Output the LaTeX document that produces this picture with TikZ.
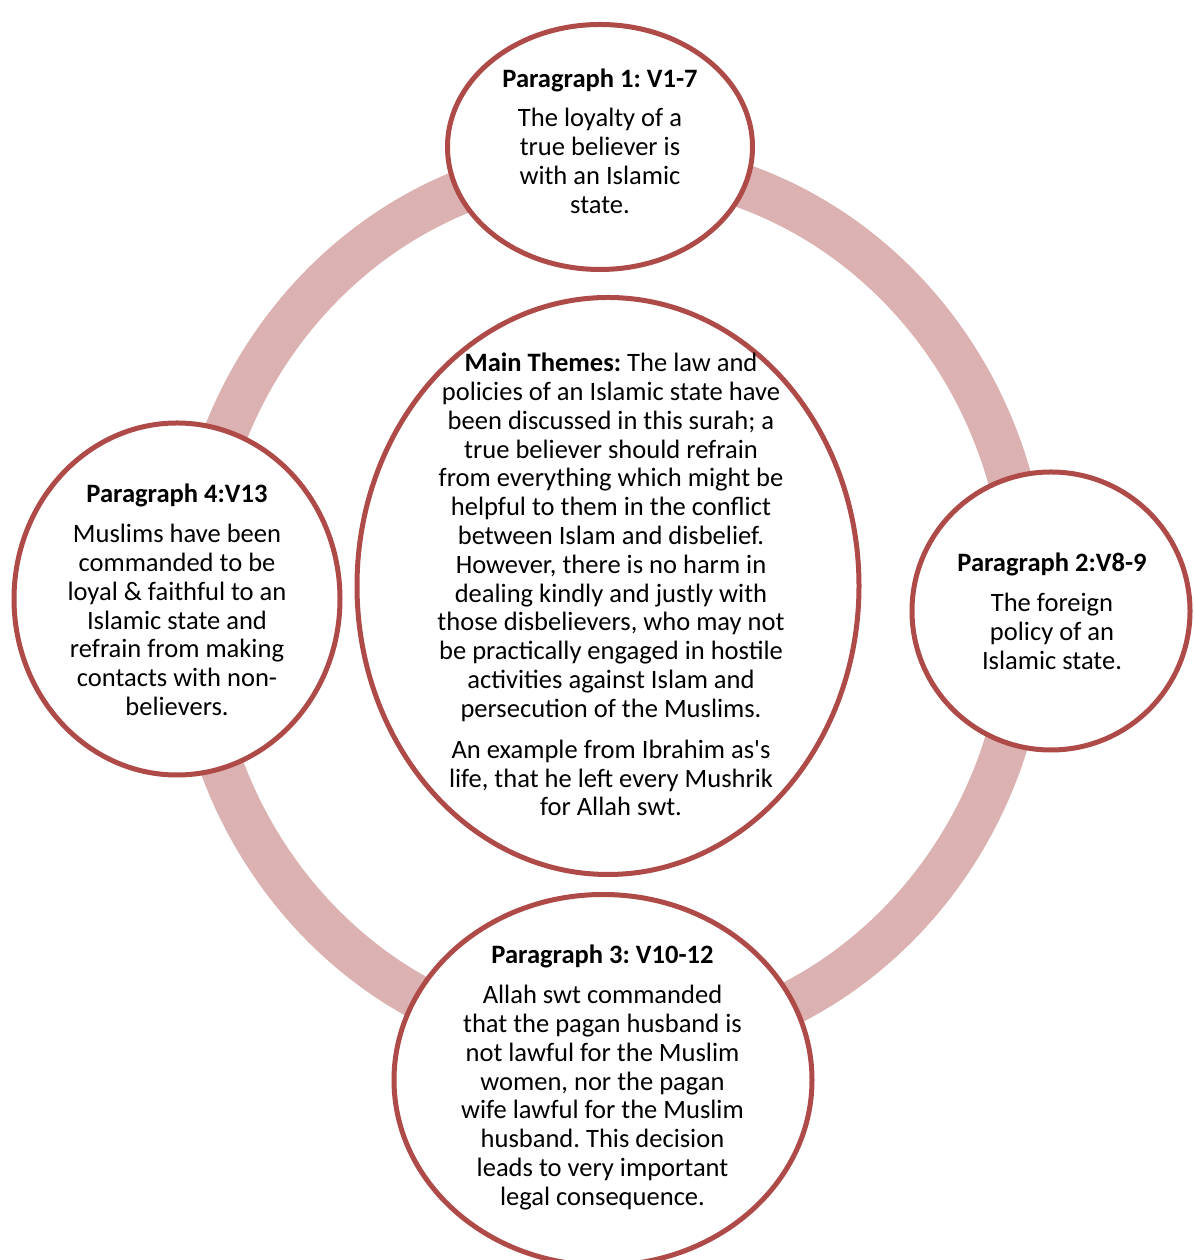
\documentclass[tikz,border=0pt]{standalone}
\usepackage{fontspec}
\setmainfont{Carlito}
\usepackage{tikz}
\usetikzlibrary{shapes.geometric}
\definecolor{rimred}{HTML}{AE4A47}
\definecolor{ringpink}{HTML}{DCB1B1}
\tikzset{para/.style={ellipse, draw=rimred, line width=1mm, fill=white, inner sep=0pt},
         paratext/.style={align=center, inner sep=0pt, font=\fontsize{15.1}{16.4}\selectfont}}
\frenchspacing

\begin{document}
\begin{tikzpicture}[scale=1]
    \path[use as bounding box] (0, 0) rectangle (23.88, 25.2);
    \clip (0, 0) rectangle (23.88, 25.2);

    % ring behind the circles
    \coordinate (hub) at (12.2, 13.1);
    \draw[ringpink, line width=0.88cm] (hub) ellipse [x radius=8.34cm, y radius=8.84cm];

    \node[para, minimum width=6.1cm, minimum height=4.9cm] at (12.0, 22.26) (P1) {};
    \node[para, minimum width=5.56cm, minimum height=5.56cm] at (21.02, 12.98) (P2) {};
    \node[para, minimum width=8.36cm, minimum height=7.42cm] at (12.06, 3.6) (P3) {};
    \node[para, minimum width=6.52cm, minimum height=7.04cm] at (3.54, 13.22) (P4) {};
    \node[para, minimum width=10.04cm, minimum height=11.54cm] at (12.16, 13.48) (main) {};

    \node[paratext] at (12.0, 22.38) (P1-text) {\textbf{Paragraph 1: V1-7}\\[0.22cm]
        The loyalty of a\\ true believer is\\ with an Islamic\\ state.};
    \node[paratext] at (21.04, 12.97) (P2-text) {\textbf{Paragraph 2:V8-9}\\[0.22cm]
        The foreign\\ policy of an\\ Islamic state.};
    \node[paratext] at (12.05, 3.65) (P3-text) {\textbf{Paragraph 3: V10-12}\\[0.22cm]
        Allah swt commanded\\ that the pagan husband is\\ not lawful for the Muslim\\ women, nor the pagan\\
        wife lawful for the Muslim\\ husband. This decision\\ leads to very important\\ legal consequence.};
    \node[paratext] at (3.54, 13.2) (P4-text) {\textbf{Paragraph 4:V13}\\[0.22cm]
        Muslims have been\\ commanded to be\\ loyal \& faithful to an\\ Islamic state and\\
        refrain from making\\ contacts with non-\\ believers.};
    \node[paratext] at (12.22, 13.51) (main-text) {\textbf{Main Themes:} The law and\\
        policies of an Islamic state have\\ been discussed in this surah; a\\ true believer should refrain\\
        from everything which might be\\ helpful to them in the conflict\\ between Islam and disbelief.\\
        However, there is no harm in\\ dealing kindly and justly with\\ those disbelievers, who may not\\
        be practically engaged in hostile\\ activities against Islam and\\ persecution of the Muslims.\\[0.24cm]
        An example from Ibrahim as\textquotesingle s\\ life, that he left every Mushrik\\ for Allah swt.};
\end{tikzpicture}
\end{document}
